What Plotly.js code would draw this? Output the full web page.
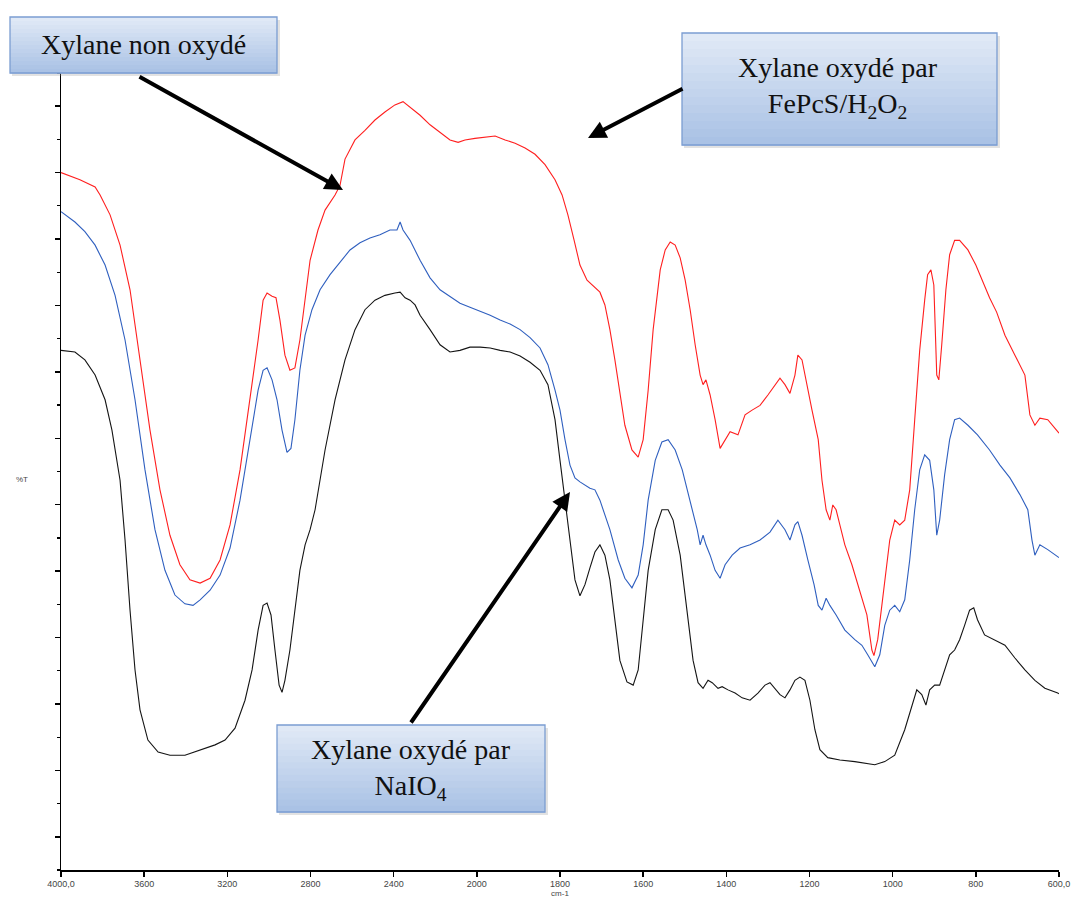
<!DOCTYPE html>
<html>
<head>
<meta charset="utf-8">
<script src="https://cdn.plot.ly/plotly-3.0.1.min.js"></script>
<style>html,body{margin:0;padding:0;background:#fff;}#chart{width:1073px;height:909px;}</style>
</head>
<body>
<div id="chart"></div>
<script>
// Wavenumbers (cm-1) and %T for each spectrum
var redWn = [4000,3909,3836,3812,3764,3716,3668,3620,3572,3524,3476,3428,3380,3331,3283,3235,3187,3139,3091,3052,3028,3009,2985,2966,2947,2923,2899,2875,2851,2826,2802,2764,2730,2682,2658,2634,2586,2538,2490,2442,2394,2355,2321,2273,2225,2177,2129,2090,2057,2009,1980,1956,1932,1908,1884,1860,1836,1812,1795,1781,1766,1752,1735,1716,1704,1692,1680,1668,1656,1644,1627,1612,1600,1588,1576,1559,1547,1535,1523,1511,1499,1487,1475,1463,1456,1449,1439,1427,1415,1403,1391,1372,1355,1338,1319,1300,1283,1271,1259,1247,1235,1228,1218,1209,1194,1179,1170,1160,1151,1144,1136,1127,1115,1098,1079,1062,1050,1045,1036,1021,1007,995,983,971,959,947,935,923,916,908,901,894,889,882,872,863,851,839,819,800,781,767,750,730,706,682,670,658,646,627,603,600];
var redT  = [87.5,86.6,85.7,84.7,82.2,78.4,72.8,64.0,55.2,47.7,42.0,38.3,36.4,36.0,36.6,38.9,43.3,50.2,59.0,66.5,71.5,72.4,72.0,71.8,69.0,64.6,62.7,63.0,66.5,71.5,76.5,80.3,82.8,84.7,85.9,89.2,91.6,92.8,94.1,95.1,96.0,96.4,95.7,94.7,93.5,92.5,91.6,91.3,91.6,91.8,92.0,92.1,91.6,91.2,90.6,89.8,88.5,86.6,84.7,82.2,79.0,75.9,74.0,73.1,72.5,70.9,67.8,64.0,59.6,55.8,52.7,51.8,54.0,60.2,67.8,75.3,77.8,78.8,78.4,76.8,74.0,70.3,65.9,62.1,60.9,61.5,59.6,56.5,52.9,54.0,55.0,54.6,57.1,57.7,58.3,59.6,60.9,61.7,60.9,59.8,62.1,64.6,64.0,61.5,57.7,54.0,48.9,45.2,43.9,45.8,45.2,43.3,40.8,38.3,35.1,32.0,27.6,26.9,28.9,35.1,41.4,43.9,43.3,43.9,47.7,56.5,65.2,71.5,74.7,75.3,73.4,62.1,61.5,65.9,72.8,77.2,79.0,79.0,77.8,75.9,73.4,71.8,70.0,67.1,64.6,62.1,57.1,55.8,56.7,56.5,55.0,54.8];

var blueWn = [4000,3933,3885,3836,3788,3740,3692,3644,3596,3548,3500,3452,3404,3365,3331,3283,3235,3187,3139,3091,3052,3028,3009,2985,2961,2937,2913,2894,2875,2851,2826,2793,2754,2706,2658,2610,2562,2514,2466,2418,2384,2369,2355,2321,2273,2225,2177,2129,2081,2033,1992,1968,1944,1920,1896,1872,1848,1829,1812,1800,1788,1776,1764,1752,1728,1716,1704,1692,1680,1660,1644,1627,1612,1600,1588,1571,1555,1540,1523,1506,1487,1470,1463,1456,1449,1439,1427,1415,1403,1386,1367,1343,1319,1295,1276,1259,1247,1235,1228,1218,1204,1189,1179,1170,1160,1151,1136,1115,1091,1074,1060,1043,1031,1019,1007,995,983,971,959,947,935,923,911,901,894,887,875,863,851,839,819,796,767,742,718,694,675,665,658,646,627,603,600];
var blueT  = [82.6,81.3,80.1,78.4,75.9,72.1,66.5,59.0,50.2,42.7,37.6,34.5,33.4,33.2,33.9,35.1,37.0,40.4,46.4,54.0,60.2,62.7,63.0,61.5,59.0,55.2,52.4,52.9,56.5,62.7,67.1,70.3,72.8,74.7,76.3,77.8,78.7,79.3,79.7,80.3,80.3,81.3,80.3,79.0,76.5,74.3,72.8,71.9,71.1,70.6,70.1,69.6,69.0,68.5,67.8,66.8,65.5,63.4,60.2,57.7,54.0,50.8,49.2,48.7,47.9,47.7,46.4,44.5,42.7,38.9,36.6,35.4,37.0,40.8,46.4,51.4,53.7,54.0,52.7,50.2,46.4,42.7,40.8,42.0,40.8,39.5,37.6,36.6,38.3,39.5,40.4,40.8,41.4,42.4,43.9,42.7,41.4,43.3,43.7,42.0,38.9,35.8,33.2,32.6,34.1,33.2,32.0,30.1,28.9,28.2,27.0,25.5,27.0,30.7,32.6,33.2,32.4,33.9,38.9,45.2,50.2,52.1,51.4,47.7,42.0,43.9,49.6,54.0,56.5,56.7,55.8,54.6,52.7,50.8,49.2,47.1,45.2,41.4,39.5,40.8,40.2,39.3,39.2];

var blackWn = [4000,3933,3885,3836,3788,3755,3716,3692,3668,3644,3620,3582,3533,3476,3404,3331,3259,3211,3163,3115,3081,3052,3028,3009,2990,2971,2951,2937,2923,2899,2875,2851,2826,2802,2778,2754,2730,2682,2634,2586,2538,2490,2442,2394,2369,2345,2321,2297,2273,2225,2177,2129,2081,2033,1992,1968,1944,1920,1896,1872,1848,1829,1812,1800,1788,1776,1764,1752,1740,1728,1716,1704,1692,1680,1668,1656,1639,1624,1612,1600,1588,1571,1555,1540,1528,1511,1494,1480,1468,1456,1444,1434,1420,1410,1396,1379,1362,1343,1324,1307,1295,1283,1271,1259,1247,1235,1223,1211,1199,1187,1175,1156,1127,1091,1067,1043,1019,995,971,954,942,930,920,911,899,887,875,863,851,839,827,815,805,796,779,755,730,706,682,658,634,603,600];
var blackT  = [65.2,65.0,64.0,62.1,59.0,55.2,48.9,41.4,32.6,25.1,20.1,16.3,14.8,14.4,14.4,15.1,15.7,16.3,17.8,21.3,25.1,30.1,33.2,33.5,32.0,27.6,23.2,22.3,23.8,27.6,32.6,37.6,40.8,42.7,45.2,48.9,52.7,59.0,64.0,67.8,70.3,71.5,72.1,72.4,72.5,71.8,71.5,70.9,69.6,67.8,65.9,65.0,65.2,65.6,65.6,65.5,65.2,65.0,64.5,63.7,62.7,60.9,56.5,51.4,46.4,40.8,36.4,34.4,35.8,37.9,39.9,40.8,39.5,36.4,31.4,26.3,23.6,23.2,25.1,31.4,37.6,42.7,45.2,45.2,43.9,39.5,32.6,26.3,23.5,22.8,23.8,23.5,22.8,23.0,22.6,22.2,21.6,21.3,22.2,23.2,23.5,22.8,22.0,21.6,22.6,23.8,24.2,23.8,21.3,17.6,15.1,14.1,13.8,13.6,13.4,13.2,13.6,14.4,17.6,20.7,22.6,22.0,20.7,22.6,23.2,23.2,25.1,27.0,27.6,28.9,30.7,32.6,32.9,31.4,29.5,28.9,28.2,26.6,25.1,23.8,22.8,22.2,22.1];

var tickLabels = ["4000,0","3600","3200","2800","2400","2000","1800","1600","1400","1200","1000","800","600,0"];
var tickWn = [4000,3600,3200,2800,2400,2000,1800,1600,1400,1200,1000,800,600];

// Spectrometer-style axis: 400 cm-1 per division above 2000, 200 cm-1 per division below
function u(w){ return w >= 2000 ? (4000 - w) / 400 : 5 + (2000 - w) / 200; }
function mapU(arr){ return arr.map(u); }

var traces = [
  {x: mapU(blackWn), y: blackT, mode:'lines', line:{color:'#141414', width:1.1}, name:'NaIO4'},
  {x: mapU(blueWn), y: blueT, mode:'lines', line:{color:'#2f5fbf', width:1.1}, name:'FePcS/H2O2'},
  {x: mapU(redWn), y: redT, mode:'lines', line:{color:'#ff1f1f', width:1.1}, name:'non oxydé'}
];

// plot area geometry (px) for paper-coordinate conversions
var L=61, R=1059, T=73, B=870;
function px(xp){ return (xp - L)/(R - L); }
function py(yp){ return (B - yp)/(B - T); }

var shapes = [];
function box(x0,y0,x1,y1){
  // soft shadow
  shapes.push({type:'rect', xref:'paper', yref:'paper', x0:px(x0+2), x1:px(x1+3), y0:py(y0+3), y1:py(y1+3),
    fillcolor:'rgba(140,140,140,0.25)', line:{width:0}, layer:'above'});
  var n = 14, top=[224,233,246], bot=[170,194,229];
  for (var i=0;i<n;i++){
    var t=i/(n-1);
    var c='rgb('+Math.round(top[0]+(bot[0]-top[0])*t)+','+Math.round(top[1]+(bot[1]-top[1])*t)+','+Math.round(top[2]+(bot[2]-top[2])*t)+')';
    var ya=y0+(y1-y0)*i/n, yb=y0+(y1-y0)*(i+1)/n;
    shapes.push({type:'rect', xref:'paper', yref:'paper', x0:px(x0), x1:px(x1), y0:py(ya), y1:py(yb+0.6),
      fillcolor:c, line:{width:0}, layer:'above'});
  }
  shapes.push({type:'rect', xref:'paper', yref:'paper', x0:px(x0), x1:px(x1), y0:py(y0), y1:py(y1),
    fillcolor:'rgba(0,0,0,0)', line:{color:'#7b9dd2', width:1.3}, layer:'above'});
}
box(10,17,277,73);
box(682,33,997,145);
box(277,725,545,812);

var serif = {family:'"Liberation Serif", "DejaVu Serif", serif', size:28, color:'#111'};
function arrow(hx,hy,tx,ty){
  return {xref:'paper', yref:'paper', x:px(hx), y:py(hy), ax:tx-hx, ay:ty-hy, text:'', showarrow:true,
    arrowhead:2, arrowsize:0.9, arrowwidth:4, arrowcolor:'#000', standoff:0, startstandoff:0};
}
var annotations = [
  arrow(343,190,138,76),
  arrow(588,138,684,88),
  arrow(570,492,410,724),
  {xref:'paper', yref:'paper', x:px(143), y:py(45), text:'Xylane non oxydé', showarrow:false, font:serif, xanchor:'center', yanchor:'middle'},
  {xref:'paper', yref:'paper', x:px(838), y:py(88), text:'Xylane oxydé par<br>FePcS/H<sub>2</sub>O<sub>2</sub>', showarrow:false, font:serif, xanchor:'center', yanchor:'middle'},
  {xref:'paper', yref:'paper', x:px(411), y:py(769), text:'Xylane oxydé par<br>NaIO<sub>4</sub>', showarrow:false, font:serif, xanchor:'center', yanchor:'middle'},
  {xref:'paper', yref:'paper', x:px(22), y:py(480), text:'%T', showarrow:false, font:{family:'"Liberation Sans", Arial, sans-serif', size:8, color:'#444'}, xanchor:'center', yanchor:'middle'}
];

var layout = {
  width:1073, height:909,
  margin:{l:L, r:1073-R, t:T, b:909-B, pad:0},
  paper_bgcolor:'#fff', plot_bgcolor:'#fff',
  showlegend:false,
  xaxis:{
    range:[0,12], tickmode:'array', tickvals: mapU(tickWn), ticktext: tickLabels,
    showline:true, linecolor:'#000', linewidth:1.5, ticks:'outside', ticklen:5, tickwidth:1.5, tickcolor:'#000',
    showgrid:false, zeroline:false,
    tickfont:{family:'"Liberation Sans", Arial, sans-serif', size:9, color:'#444'},
    title:{text:'cm-1', font:{family:'"Liberation Sans", Arial, sans-serif', size:8, color:'#444'}, standoff:2}
  },
  yaxis:{
    range:[0,100], tickmode:'linear', tick0:100/24, dtick:100/12,
    showline:true, linecolor:'#000', linewidth:1.5, ticks:'outside', ticklen:5, tickwidth:1.5, tickcolor:'#000',
    minor:{tickmode:'linear', tick0:0, dtick:100/24, ticks:'outside', ticklen:3, tickwidth:1.3, tickcolor:'#000', showgrid:false},
    showticklabels:false, showgrid:false, zeroline:false
  },
  shapes: shapes,
  annotations: annotations
};

Plotly.newPlot('chart', traces, layout, {displayModeBar:false, staticPlot:true});
</script>
</body>
</html>
